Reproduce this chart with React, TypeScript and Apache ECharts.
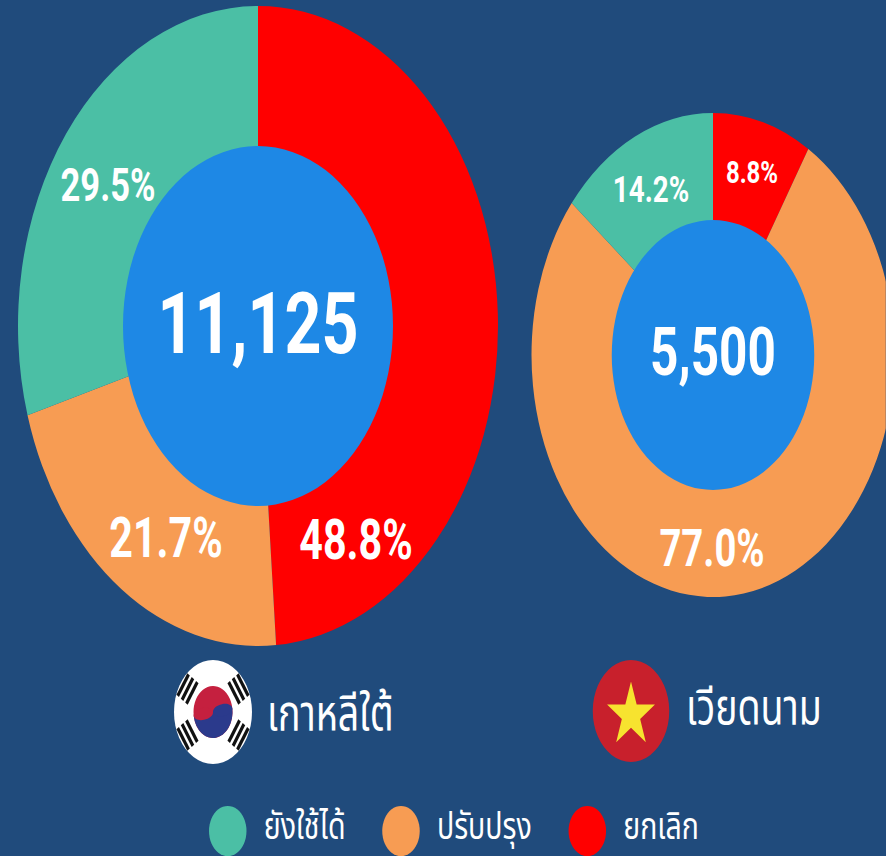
import React, { useEffect, useRef } from "react";
import * as echarts from "echarts";

const categories = ["ยกเลิก", "ปรับปรุง", "ยังใช้ได้"];
const legendOrder = ["ยังใช้ได้", "ปรับปรุง", "ยกเลิก"];
const koreaValues = [48.8, 21.7, 29.5];
const vietnamValues = [8.8, 77.0, 14.2];
const koreaTotal = 11125;
const vietnamTotal = 5500;
const koreaName = "เกาหลีใต้";
const vietnamName = "เวียดนาม";
const colors = ["#ff0000", "#f79c53", "#4bbfa5"];

const BG = "#204b7c";
const HOLE = "#1e88e5";
const SQ = 0.75; // the whole picture is condensed horizontally
const W = 886;
const H = 856;
const X = (x: number) => x / SQ;
const FONT = "'Noto Sans Thai', 'Noto Sans', Roboto, sans-serif";
const NUM = "Roboto, 'Noto Sans', sans-serif";

const koreaLabelPos = [[356, 540, 55], [166, 538, 55], [108, 185, 46]];
const vietnamLabelPos = [[752, 172, 32], [712, 548, 51], [651, 190, 37]];

function ring(name: string, values: number[], cx: number, cy: number, r0: number, r: number, pos: number[][]) {
  return {
    type: "pie",
    name,
    center: [X(cx), cy],
    radius: [r0, r],
    startAngle: 90,
    clockwise: true,
    silent: true,
    data: categories.map((c, i) => ({ name: c, value: values[i], itemStyle: { color: colors[i] } })),
    label: {
      show: true,
      position: "inside",
      formatter: (p: any) => `${p.value.toFixed(1)}%`,
      color: "#fff",
      fontFamily: NUM,
      fontWeight: "bold",
    },
    labelLine: { show: false },
    labelLayout: (p: any) => ({
      x: X(pos[p.dataIndex][0]),
      y: pos[p.dataIndex][1],
      align: "center",
      verticalAlign: "middle",
      fontSize: pos[p.dataIndex][2],
    }),
  };
}

function hole(total: number, cx: number, cy: number, r: number, fontSize: number, dy: number) {
  return {
    type: "pie",
    center: [X(cx), cy],
    radius: [0, r],
    silent: true,
    data: [{ name: "total", value: total, itemStyle: { color: HOLE } }],
    label: {
      show: true,
      position: "center",
      offset: [0, dy],
      formatter: (p: any) => p.value.toLocaleString("en-US"),
      color: "#fff",
      fontFamily: NUM,
      fontWeight: "bold",
      fontSize,
    },
    labelLine: { show: false },
  };
}

function trigram(x: number, y: number, rotation: number) {
  return {
    type: "group",
    x,
    y,
    rotation,
    children: [-7, 0, 7].map((o) => ({
      type: "rect",
      shape: { x: -13, y: o - 2, width: 26, height: 4 },
      style: { fill: "#111" },
    })),
  };
}

function koreaFlag(cx: number, cy: number) {
  return {
    type: "group",
    x: X(cx),
    y: cy,
    children: [
      { type: "circle", shape: { r: 52 }, style: { fill: "#fff" } },
      {
        type: "group",
        rotation: 0.15,
        children: [
          { type: "circle", shape: { r: 26 }, style: { fill: "#c5203f" } },
          { type: "sector", shape: { r: 26, r0: 0, startAngle: 0, endAngle: Math.PI }, style: { fill: "#2b3a8c" } },
          { type: "ellipse", shape: { cx: -13, cy: 0, rx: 13, ry: 6 }, style: { fill: "#c5203f" } },
          { type: "ellipse", shape: { cx: 13, cy: 0, rx: 13, ry: 6 }, style: { fill: "#2b3a8c" } },
        ],
      },
      trigram(-34, -23, 0.98),
      trigram(34, -23, -0.98),
      trigram(-34, 23, -0.98),
      trigram(34, 23, 0.98),
    ],
  };
}

function vietnamFlag(cx: number, cy: number) {
  const R = 33.6;
  const pts: number[][] = [];
  for (let i = 0; i < 10; i++) {
    const a = -Math.PI / 2 + (i * Math.PI) / 5;
    const r = i % 2 === 0 ? R : R * 0.382;
    pts.push([r * Math.cos(a), 4 + r * Math.sin(a)]);
  }
  return {
    type: "group",
    x: X(cx),
    y: cy,
    children: [
      { type: "circle", shape: { r: 51 }, style: { fill: "#c8202c" } },
      { type: "polygon", shape: { points: pts }, style: { fill: "#f7e32f" } },
    ],
  };
}

export default function App() {
  const ref = useRef<HTMLDivElement>(null);
  useEffect(() => {
    document.body.style.margin = "0";
    const chart = echarts.init(ref.current!, undefined, { renderer: "svg" });
    chart.setOption({
      animation: false,
      backgroundColor: BG,
      color: colors,
      legend: {
        data: legendOrder,
        left: X(209),
        top: 806,
        padding: 0,
        icon: "circle",
        itemWidth: 50,
        itemHeight: 50,
        itemGap: 49,
        selectedMode: false,
        formatter: (name: string) => `{a|${name}}`,
        textStyle: {
          color: "#fff",
          rich: { a: { color: "#fff", fontFamily: FONT, fontSize: 38, padding: [0, 0, 7, 18] } },
        },
      },
      series: [
        ring("เกาหลีใต้", koreaValues, 258, 326, 170, 320, koreaLabelPos),
        hole(koreaTotal, 258, 326, 180, 86, -2),
        ring("เวียดนาม", vietnamValues, 713, 355, 125, 242, vietnamLabelPos),
        hole(vietnamTotal, 713, 355, 135, 66, -3),
      ],
      graphic: [
        koreaFlag(213, 712),
        vietnamFlag(631, 711),
        {
          type: "text",
          x: X(267),
          y: 716,
          style: { text: koreaName, fill: "#fff", font: `50px ${FONT}`, verticalAlign: "middle" },
        },
        {
          type: "text",
          x: X(686),
          y: 710,
          style: { text: vietnamName, fill: "#fff", font: `50px ${FONT}`, verticalAlign: "middle" },
        },
      ],
    });
    return () => chart.dispose();
  }, []);
  return (
    <div style={{ width: W, height: H, overflow: "hidden", background: BG, position: "relative" }}>
      <div
        ref={ref}
        style={{ width: W / SQ, height: H, transform: `scaleX(${SQ})`, transformOrigin: "0 0" }}
      />
    </div>
  );
}
